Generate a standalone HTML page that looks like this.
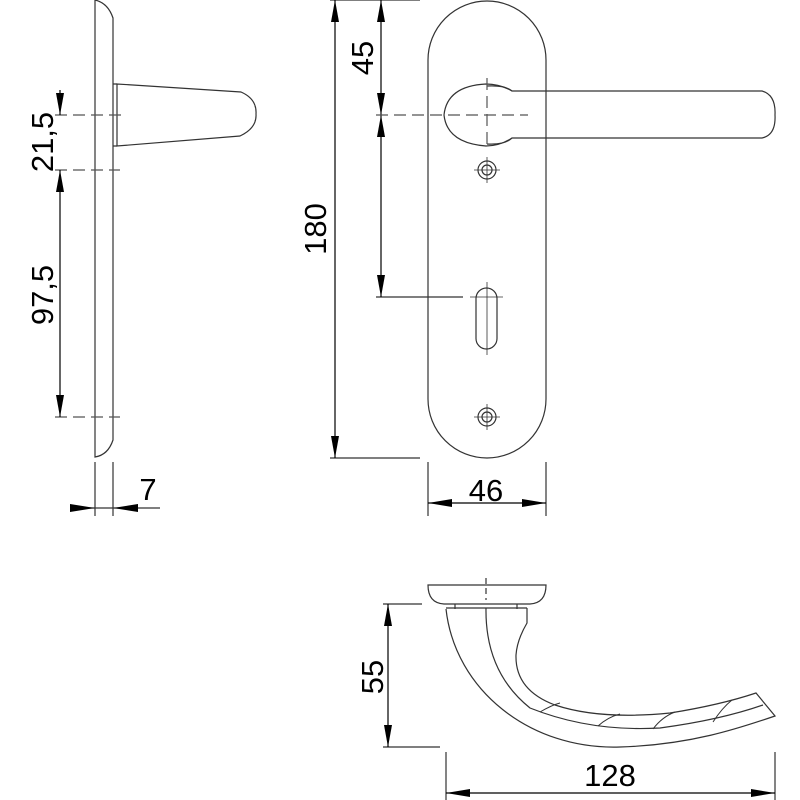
<!DOCTYPE html>
<html><head><style>body{margin:0;background:#fff}svg{display:block}text{font-family:"Liberation Sans",sans-serif;fill:#000}</style></head><body>
<svg width="800" height="800" viewBox="0 0 800 800" xmlns="http://www.w3.org/2000/svg">
<g fill="none" stroke="#333" stroke-width="1.2">
<!-- left side view -->
<path d="M95,0 L95,457 Q108,455 113,440 L113,18 Q108,3 95,0"/>
<path d="M117,84 L117,146 L240,136 Q257,128 256,114 Q257,99 241,92 Z"/>
<path d="M113,84 L117,84 M113,146 L117,146"/>
<g stroke-dasharray="12,6" stroke="#555"><path d="M55,115 L123,115 M55,170 L120,170 M55,417 L120,417"/></g>
<path d="M60,90 L60,115 M60,170 L60,417" stroke="#000"/>
<path d="M95,462 L95,516 M113,462 L113,516 M70,508 L160,508"/>
<!-- front view -->
<rect x="428" y="1" width="118" height="457" rx="59"/>
<path d="M330,0 L420,0 M330,458 L420,458 M376,297 L463,297 M428,462 L428,516 M546,462 L546,516"/>
<path d="M335,0 L335,458 M381,0 L381,297 M428,503 L546,503" stroke="#000"/>
<path d="M486,84 Q447,86 444,115 Q447,143 486,146 Q500,146 512,138 L762,138 Q776,135 775,115 Q776,95 762,91 L512,91 Q500,84 486,84 Z"/>
<path d="M487,86 Q505,85 512,91 M487,144 Q505,145 512,138"/>
<g stroke-dasharray="12,6" stroke="#555"><path d="M376,115 L528,115 M487,78 L487,150"/></g>
<circle cx="487" cy="170" r="9"/><circle cx="487" cy="170" r="5"/><path d="M474,170 L500,170 M487,157 L487,183" stroke-width="0.8"/>
<circle cx="487" cy="417" r="9"/><circle cx="487" cy="417" r="5"/><path d="M474,417 L500,417 M487,404 L487,430" stroke-width="0.8"/>
<rect x="476" y="288" width="21" height="61" rx="10.5"/>
<path d="M470,297 L503,297 M487,282 L487,355" stroke-width="0.8"/>
<!-- bottom view -->
<path d="M428,585 L546,585 Q546,603 530,604 L444,604 Q428,603 428,585 Z"/>
<path d="M455,604 L455,609 M517,604 L517,609 M446,608 L527,608"/>
<path d="M446,609 C455,690 530,750 620,747 C690,745 740,728 775,716 L756,693 Q720,705 670,713 Q600,720 555,705 Q515,690 516,655 Q517,640 527,623 L527,608"/>
<path d="M486,608 Q485,672 530,708 Q590,732 660,728 Q720,720 763,705"/>
<path d="M540,712 Q552,705 560,703 M598,726 Q608,717 620,714 M653,729 Q662,717 675,712 M713,722 Q722,708 732,700" stroke-width="1"/>
<path d="M486,578 L486,600" stroke-dasharray="6,4"/>
<path d="M383,604 L422,604 M383,747 L440,747 M446,752 L446,800 M775,752 L775,800"/>
<path d="M388,604 L388,747 M446,793 L775,793" stroke="#000"/>
</g>
<g fill="#000">
<!-- vertical arrows: down-pointing tip at y -->
<polygon points="56,93 64,93 60,115"/>
<polygon points="56,192 64,192 60,170"/>
<polygon points="56,395 64,395 60,417"/>
<polygon points="331,22 339,22 335,0"/>
<polygon points="331,436 339,436 335,458"/>
<polygon points="377,22 385,22 381,0"/>
<polygon points="377,93 385,93 381,115"/>
<polygon points="377,137 385,137 381,115"/>
<polygon points="377,275 385,275 381,297"/>
<polygon points="384,626 392,626 388,604"/>
<polygon points="384,725 392,725 388,747"/>
<!-- horizontal -->
<polygon points="70,504 70,512 95,508"/>
<polygon points="138,504 138,512 113,508"/>
<polygon points="452,499 452,507 428,503"/>
<polygon points="522,499 522,507 546,503"/>
<polygon points="470,789 470,797 446,793"/>
<polygon points="751,789 751,797 775,793"/>
</g>
<g font-size="31">
<text transform="translate(53,142) rotate(-90)" text-anchor="middle">21,5</text>
<text transform="translate(53,295) rotate(-90)" text-anchor="middle">97,5</text>
<text x="148" y="500" text-anchor="middle">7</text>
<text transform="translate(326,229) rotate(-90)" text-anchor="middle">180</text>
<text transform="translate(373,58) rotate(-90)" text-anchor="middle">45</text>
<text x="486" y="501" text-anchor="middle">46</text>
<text transform="translate(383,677) rotate(-90)" text-anchor="middle">55</text>
<text x="610" y="786" text-anchor="middle">128</text>
</g>
</svg>
</body></html>
